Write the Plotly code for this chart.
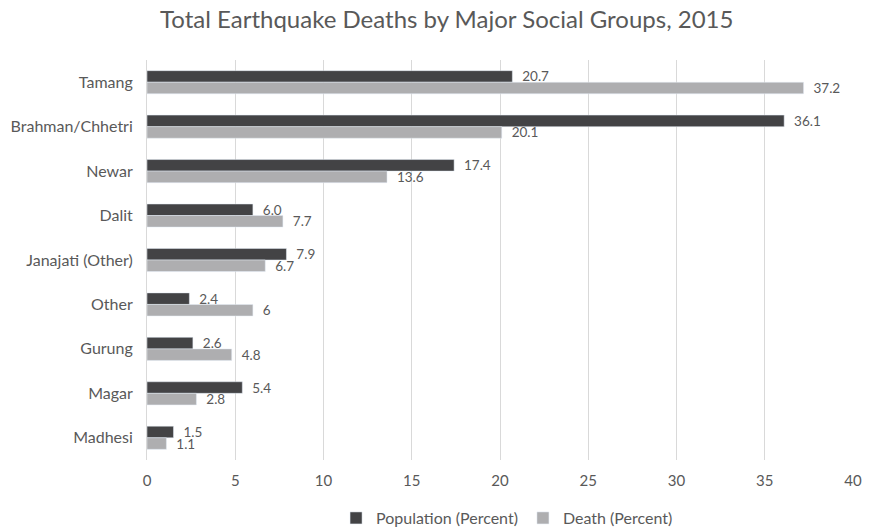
import plotly.graph_objects as go

categories = ["Tamang", "Brahman/Chhetri", "Newar", "Dalit", "Janajati (Other)",
              "Other", "Gurung", "Magar", "Madhesi"]
population = [20.7, 36.1, 17.4, 6.0, 7.9, 2.4, 2.6, 5.4, 1.5]
death = [37.2, 20.1, 13.6, 7.7, 6.7, 6, 4.8, 2.8, 1.1]
population_labels = ["20.7", "36.1", "17.4", "6.0", "7.9", "2.4", "2.6", "5.4", "1.5"]
death_labels = ["37.2", "20.1", "13.6", "7.7", "6.7", "6", "4.8", "2.8", "1.1"]
x_ticks = [0, 5, 10, 15, 20, 25, 30, 35, 40]

FONT = "Lato"
TXT = "#595959"
PAD = "\u00a0\u00a0"

fig = go.Figure()
fig.add_trace(go.Bar(
    y=categories, x=population, orientation="h", name="Population (Percent)",
    marker=dict(color="#434345"), text=population_labels, textposition="outside",
    texttemplate=PAD + "%{text}", constraintext="none",
    textfont=dict(size=13.5, color=TXT, family=FONT), cliponaxis=False,
))
fig.add_trace(go.Bar(
    y=categories, x=death, orientation="h", name="Death (Percent)",
    marker=dict(color="#AEAEB0"), text=death_labels, textposition="outside",
    texttemplate=PAD + "%{text}", constraintext="none",
    textfont=dict(size=13.5, color=TXT, family=FONT), cliponaxis=False,
))

fig.update_layout(
    width=876, height=527,
    margin=dict(l=147, r=23, t=60, b=67, autoexpand=False),
    paper_bgcolor="white", plot_bgcolor="white",
    barmode="group", bargap=0.48, bargroupgap=0,
    title=dict(text="Total Earthquake Deaths by Major Social Groups, 2015",
               x=0.51, xanchor="center", y=0.962, yanchor="middle",
               font=dict(size=24, color=TXT, family=FONT)),
    font=dict(family=FONT, color=TXT, size=15),
    legend=dict(orientation="h", x=0.51, xanchor="center",
                yref="container", y=0.017, yanchor="middle",
                font=dict(size=16, color=TXT, family=FONT), traceorder="normal",
                itemwidth=30),
)
fig.update_xaxes(range=[0, 40], tickvals=x_ticks, showgrid=True, gridcolor="#D9D9D9",
                 gridwidth=1, zeroline=False, showline=False, ticklabelstandoff=10,
                 tickfont=dict(size=15, color=TXT, family=FONT), ticks="")
fig.update_yaxes(categoryorder="array", categoryarray=categories, autorange="reversed",
                 showline=True, linecolor="#D9D9D9", linewidth=1, ticks="",
                 ticklabelstandoff=10, tickfont=dict(size=16, color=TXT, family=FONT))

fig.write_html("out.html")
